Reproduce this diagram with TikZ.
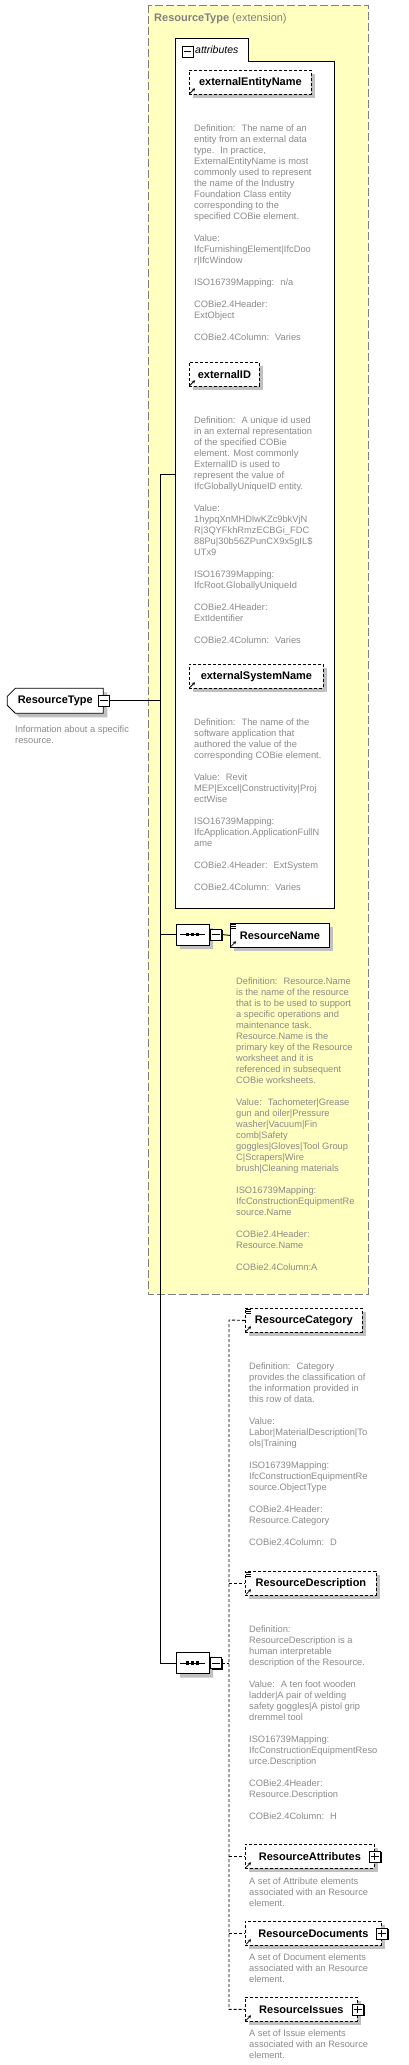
\documentclass[tikz,border=0pt]{standalone}
\usepackage{fontspec}
\setmainfont{Liberation Sans}
\usetikzlibrary{arrows.meta,calc,positioning,shapes.misc,shadows}
\definecolor{xsdyellow}{RGB}{255,255,192}
\definecolor{xsdgray}{RGB}{128,128,128}
\definecolor{xsdtext}{RGB}{138,138,138}
\definecolor{xsdshadow}{RGB}{192,192,192}

\begin{document}
\begin{tikzpicture}[x=1pt, y=-1pt,
    elem/.style={draw, fill=white, line width=0.8pt, anchor=north west, inner sep=0pt, minimum height=24pt, font=\bfseries\fontsize{11}{13}\selectfont, drop shadow={shadow xshift=4pt, shadow yshift=-4pt, fill=xsdshadow, opacity=1}},
    optelem/.style={elem, dash pattern=on 3pt off 2pt},
    rootelem/.style={elem, chamfered rectangle, chamfered rectangle corners={north west,south west}, chamfered rectangle xsep=4pt, chamfered rectangle ysep=4pt, minimum width=96pt, minimum height=25pt},
    seqbox/.style={draw, fill=white, line width=0.8pt, chamfered rectangle, chamfered rectangle xsep=7pt, chamfered rectangle ysep=5pt, minimum width=33pt, minimum height=21pt, inner sep=0pt, drop shadow={shadow xshift=4pt, shadow yshift=-4pt, fill=xsdshadow, opacity=1}},
    toggle/.style={draw, fill=white, line width=0.8pt, minimum size=11pt, inner sep=0pt, drop shadow={shadow xshift=1.2pt, shadow yshift=-1.2pt, fill=black, opacity=1}},
    desc/.style={anchor=north west, inner sep=0pt, align=left, text=xsdtext, font=\fontsize{9.3}{11}\selectfont},
    link/.style={line width=0.9pt},
    optlink/.style={line width=0.9pt, dash pattern=on 3pt off 2pt},
    refarrow/.style={-{Stealth[length=3pt,width=3.4pt]}, line width=0.8pt}
  ]
  \useasboundingbox (0,0) rectangle (409,2065);

  % extension
  \draw[xsdgray, fill=xsdyellow, line width=1pt, dash pattern=on 8pt off 3pt] (148,5) rectangle (368,1294);
  \node[anchor=west, inner sep=0pt, text=xsdgray, font=\fontsize{11}{13}\selectfont] (exttitle) at (154,19) {\textbf{ResourceType} (extension)};

  % attributes
  \draw[line width=1pt, fill=white] (175,908) -- (175,38) -- (248,38) -- (248,61) -- (334,61) -- (334,908) -- cycle;
  \coordinate (attrsleft) at (175,474);
  \node[toggle] (tabmin) at (187.5,51.5) {};
  \node[anchor=west, inner sep=0pt, font=\itshape\fontsize{10.5}{12}\selectfont] (tabtext) at (195,50) {attributes};

  \node[optelem, minimum width=122pt] (een) at (189,70) {externalEntityName};
  \node[desc] (eendesc) at (194,125) {Definition:~ The name of an\\entity from an external data\\type.~ In practice,\\ExternalEntityName is most\\commonly used to represent\\the name of the Industry\\Foundation Class entity\\corresponding to the\\specified COBie element.\\[11pt]Value:\\IfcFurnishingElement|IfcDoo\\r|IfcWindow\\[11pt]ISO16739Mapping:~ n/a\\[11pt]COBie2.4Header:\\ExtObject\\[11pt]COBie2.4Column:~ Varies};

  \node[optelem, minimum width=70pt] (eid) at (189,362) {externalID};
  \node[desc] (eiddesc) at (194,417) {Definition:~ A unique id used\\in an external representation\\of the specified COBie\\element. Most commonly\\ExternalID is used to\\represent the value of\\IfcGloballyUniqueID entity.\\[11pt]Value:\\1hypqXnMHDlwKZc9bkVjN\\R|3QYFkhRmzECBGi\_FDC\\88Pu|30b56ZPunCX9x5gIL\$\\UTx9\\[11pt]ISO16739Mapping:\\IfcRoot.GloballyUniqueId\\[11pt]COBie2.4Header:\\ExtIdentifier\\[11pt]COBie2.4Column:~ Varies};

  \node[optelem, minimum width=134pt] (esn) at (189,664) {externalSystemName};
  \node[desc] (esndesc) at (194,719) {Definition:~ The name of the\\software application that\\authored the value of the\\corresponding COBie element.\\[11pt]Value:~ Revit\\MEP|Excel|Constructivity|Proj\\ectWise\\[11pt]ISO16739Mapping:\\IfcApplication.ApplicationFullN\\ame\\[11pt]COBie2.4Header:~ ExtSystem\\[11pt]COBie2.4Column:~ Varies};

  % root
  \node[rootelem] (rtype) at (11,692) {ResourceType};
  \node[toggle] (rtmin) at (rtype.east) {};
  \node[desc] (rtypedesc) at (15,726) {Information about a specific\\resource.};

  % sequences
  \node[seqbox] (seq1) at (192.5,934.5) {};
  \node[toggle, anchor=west] (seq1min) at ([xshift=0.5pt]seq1.east) {};
  \node[seqbox] (seq2) at (192.5,1663) {};
  \node[toggle, anchor=west] (seq2min) at ([xshift=0.5pt]seq2.east) {};

  \node[elem, minimum width=99pt] (rname) at (230,923) {ResourceName};
  \node[desc] (rnamedesc) at (236,978) {Definition:~ Resource.Name\\is the name of the resource\\that is to be used to support\\a specific operations and\\maintenance task.\\Resource.Name is the\\primary key of the Resource\\worksheet and it is\\referenced in subsequent\\COBie worksheets.\\[11pt]Value:~ Tachometer|Grease\\gun and oiler|Pressure\\washer|Vacuum|Fin\\comb|Safety\\goggles|Gloves|Tool Group\\C|Scrapers|Wire\\brush|Cleaning materials\\[11pt]ISO16739Mapping:\\IfcConstructionEquipmentRe\\source.Name\\[11pt]COBie2.4Header:\\Resource.Name\\[11pt]COBie2.4Column:A};

  \node[optelem, minimum width=117pt] (rcat) at (245,1308) {ResourceCategory};
  \node[desc] (rcatdesc) at (249,1363) {Definition:~ Category\\provides the classification of\\the information provided in\\this row of data.\\[11pt]Value:\\Labor|MaterialDescription|To\\ols|Training\\[11pt]ISO16739Mapping:\\IfcConstructionEquipmentRe\\source.ObjectType\\[11pt]COBie2.4Header:\\Resource.Category\\[11pt]COBie2.4Column:~ D};

  \node[optelem, minimum width=131pt] (rdesc) at (245,1571) {ResourceDescription};
  \node[desc] (rdescdesc) at (249,1626) {Definition:\\ResourceDescription is a\\human interpretable\\description of the Resource.\\[11pt]Value:~ A ten foot wooden\\ladder|A pair of welding\\safety goggles|A pistol grip\\dremmel tool\\[11pt]ISO16739Mapping:\\IfcConstructionEquipmentReso\\urce.Description\\[11pt]COBie2.4Header:\\Resource.Description\\[11pt]COBie2.4Column:~ H};

  \node[optelem, minimum width=129pt] (rattr) at (245,1844) {ResourceAttributes\hspace{8pt}};
  \node[toggle] (rattrplus) at (rattr.east) {};
  \node[desc] (rattrdesc) at (249,1878) {A set of Attribute elements\\associated with an Resource\\element.};

  \node[optelem, minimum width=136pt] (rdoc) at (245,1921) {ResourceDocuments\hspace{8pt}};
  \node[toggle] (rdocplus) at (rdoc.east) {};
  \node[desc] (rdocdesc) at (249,1954) {A set of Document elements\\associated with an Resource\\element.};

  \node[optelem, minimum width=112pt] (riss) at (245,1997) {ResourceIssues\hspace{8pt}};
  \node[toggle] (rissplus) at (riss.east) {};
  \node[desc] (rissdesc) at (249,2030) {A set of Issue elements\\associated with an Resource\\element.};

  % connectors
  \coordinate (bustop) at (160,474);
  \coordinate (busbot) at (160,1663);
  \coordinate (optbus) at (229,1320);
  \draw[link] (rtmin.east) -- (rtmin.east -| bustop);
  \draw[link] (attrsleft) -- (bustop) -- (busbot) -- (seq2.west);
  \draw[link] (seq1.west -| bustop) -- (seq1.west);
  \draw[link] (seq1min.east) -- (rname.west);
  \draw[optlink] (seq2min.east) -- (optbus |- seq2min.east);
  \draw[optlink] (rcat.west) -- (optbus) -- (optbus |- riss.west) -- (riss.west);
  \foreach \n in {rdesc,rattr,rdoc}
    \draw[optlink] (optbus |- \n.west) -- (\n.west);

  % toggle signs
  \foreach \n in {tabmin,rtmin,seq1min,seq2min,rattrplus,rdocplus,rissplus}
    \draw[line width=0.8pt] ([xshift=2pt]\n.west) -- ([xshift=-2pt]\n.east);
  \foreach \n in {rattrplus,rdocplus,rissplus}
    \draw[line width=0.8pt] ([yshift=-2pt]\n.north) -- ([yshift=2pt]\n.south);

  % sequence marks
  \foreach \n in {seq1,seq2} {
    \draw[line width=0.8pt] ([xshift=-12.5pt]\n.center) -- ([xshift=12.5pt]\n.center);
    \foreach \dx in {-5,0,5}
      \fill ([xshift=\dx pt]\n.center) ++(-1.6pt,-1.6pt) rectangle ++(3.2pt,3.2pt);
  }

  % element icons
  \foreach \n in {een,eid,esn,rname,rcat,rdesc,rattr,rdoc,riss}
    \draw[refarrow] ([shift={(1pt,1.5pt)}]\n.south west) -- ++(5pt,5pt);
  \foreach \n in {rname,rcat,rdesc}
    \foreach \k in {1.5,3.5,5.5}
      \draw[line width=0.6pt] ([shift={(1pt,-\k pt)}]\n.north west) -- ++(5pt,0pt);
\end{tikzpicture}
\end{document}
